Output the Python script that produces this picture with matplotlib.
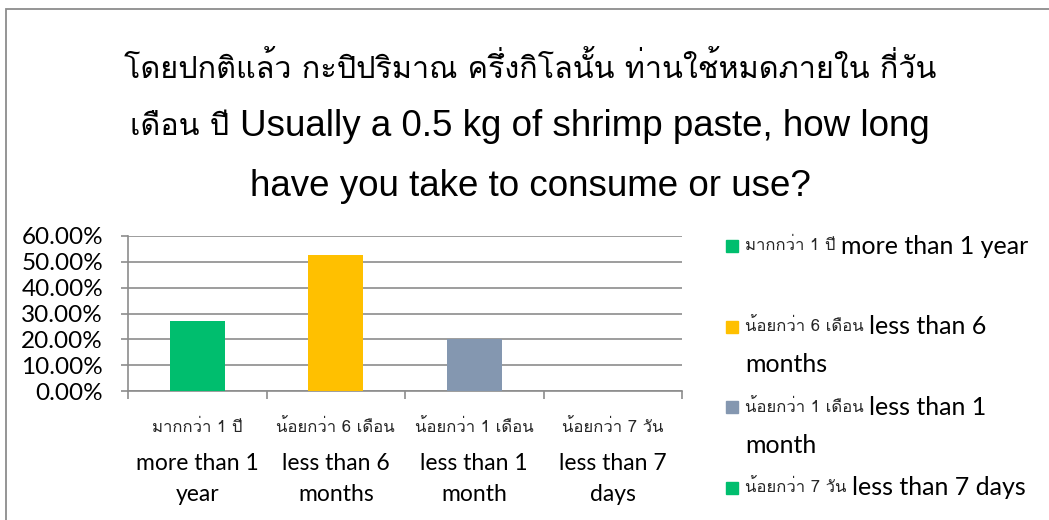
import matplotlib
matplotlib.use("Agg")
import matplotlib.pyplot as plt
from matplotlib import font_manager as fm
from matplotlib.ft2font import FT2Font
from matplotlib.patches import Rectangle
from matplotlib.ticker import FuncFormatter, FixedLocator
import matplotlib.transforms as mtransforms

# ---- data -------------------------------------------------------------
# title lines as (Thai part, English part)
title_lines = [
    ("โดยปกติแล้ว กะปิปริมาณ ครึ่งกิโลนั้น ท่านใช้หมดภายใน กี่วัน", ""),
    ("เดือน ปี ", "Usually a 0.5 kg of shrimp paste, how long"),
    ("", "have you take to consume or use?"),
]
labels_th = ["มากกว่า 1 ปี", "น้อยกว่า 6 เดือน", "น้อยกว่า 1 เดือน", "น้อยกว่า 7 วัน"]
labels_en = ["more than 1\nyear", "less than 6\nmonths", "less than 1\nmonth", "less than 7\ndays"]
legend_en = ["more than 1 year", "less than 6\nmonths", "less than 1\nmonth", "less than 7 days"]
values = [0.2727, 0.5273, 0.20, 0.0]
colors = ["#00BE6E", "#FFC000", "#8497B0", "#00BE6E"]
y_ticks = [0.0, 0.1, 0.2, 0.3, 0.4, 0.5, 0.6]


def family_with(char):
    """Return the first installed family that has a glyph for char."""
    cp = ord(char)
    seen = set()
    for f in fm.fontManager.ttflist:
        if f.fname in seen:
            continue
        seen.add(f.fname)
        try:
            if cp in FT2Font(f.fname).get_charmap():
                return f.name
        except Exception:
            continue
    return None


thai = family_with("ก")
title_fam = ["Liberation Sans", "DejaVu Sans"]
body_fam = ["Lato", "DejaVu Sans"]
thai_fam = ([thai] if thai else []) + ["DejaVu Sans"]

W, H = 1049, 520
fig = plt.figure(figsize=(W / 100, H / 100), dpi=100)
fig.patch.set_facecolor("white")
renderer = fig.canvas.get_renderer()


def fx(px):
    return px / W


def fy(py):
    return 1 - py / H


# outer chart frame (runs off the right and bottom edges)
fig.add_artist(Rectangle((fx(6), fy(540)), fx(1100) - fx(6), fy(9) - fy(540),
                         transform=fig.transFigure, fill=False,
                         edgecolor="#8C8C8C", linewidth=1.3))

# title: Thai and English parts set in their own fonts, line centred as a whole
for (th, en), ypx in zip(title_lines, [68, 127, 186]):
    parts = []
    if th:
        parts.append(fig.text(0, fy(ypx), th, ha="left", va="center",
                              fontsize=22, family=thai_fam, color="black"))
    if en:
        parts.append(fig.text(0, fy(ypx), en, ha="left", va="center",
                              fontsize=26.5, family=title_fam, color="black"))
    widths = [p.get_window_extent(renderer).width for p in parts]
    left = 530 - sum(widths) / 2
    for p, w in zip(parts, widths):
        p.set_x(fx(left))
        left += w

# plot area
ax = fig.add_axes([fx(128), fy(391), fx(682) - fx(128), fy(236) - fy(391)])
x = list(range(len(values)))
ax.bar(x, values, width=0.4, color=colors[:len(values)], zorder=3)
ax.set_xlim(-0.5, len(values) - 0.5)
ax.set_ylim(0, 0.6)
ax.yaxis.set_major_locator(FixedLocator(y_ticks))
ax.yaxis.set_major_formatter(FuncFormatter(lambda v, p: f"{v * 100:.2f}%"))
ax.grid(axis="y", color="#8C8C8C", linewidth=1.2, zorder=0)
for s in ["top", "right"]:
    ax.spines[s].set_visible(False)
for s in ["left", "bottom"]:
    ax.spines[s].set_color("#8C8C8C")
    ax.spines[s].set_linewidth(1.2)
ax.xaxis.set_major_locator(FixedLocator([i - 0.5 for i in range(len(values) + 1)]))
ax.set_xticklabels([])
ax.tick_params(axis="x", length=6, color="#8C8C8C", width=1.2)
ax.tick_params(axis="y", length=5, color="#8C8C8C", width=1.2, pad=13,
               labelsize=17.5)
for t in ax.get_yticklabels():
    t.set_family(body_fam)

# category labels: small Thai line, then two-line English label
trans = mtransforms.blended_transform_factory(ax.transData, ax.transAxes)
for i in x:
    ax.annotate(labels_th[i], xy=(i, 0), xycoords=trans, xytext=(0, -37),
                textcoords="offset pixels", ha="center", va="center",
                fontsize=12, family=thai_fam, color="#262626",
                annotation_clip=False)
    ax.annotate(labels_en[i], xy=(i, 0), xycoords=trans, xytext=(0, -88),
                textcoords="offset pixels", ha="center", va="center",
                fontsize=16.5, family=body_fam, color="black",
                linespacing=1.6, annotation_clip=False)

# legend
for k, (th, en, c) in enumerate(zip(labels_th, legend_en, colors)):
    ypx = 246 + 80.6 * k
    fig.add_artist(Rectangle((fx(726), fy(ypx + 6)), fx(12), 12 / H,
                             transform=fig.transFigure, color=c))
    first, *rest = en.split("\n")
    t = fig.text(fx(745), fy(ypx), th + " ", ha="left", va="center",
                 fontsize=12, family=thai_fam, color="#262626")
    fig.add_artist(plt.Annotation(first, xy=(1, 0.5), xycoords=t,
                                  xytext=(0, 0), textcoords="offset pixels",
                                  ha="left", va="center", fontsize=18,
                                  family=body_fam, color="black"))
    for j, r in enumerate(rest):
        fig.text(fx(745), fy(ypx + 38 * (j + 1)), r, ha="left", va="center",
                 fontsize=18, family=body_fam, color="black")

fig.savefig("out.png", dpi=100)
